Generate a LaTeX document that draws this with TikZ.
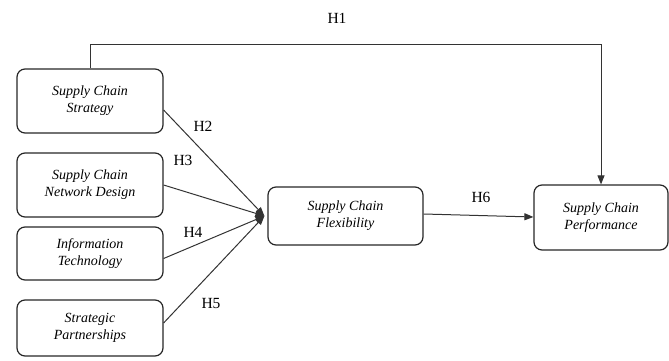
\documentclass[tikz,border=0pt]{standalone}
\usepackage{fontspec}
\setmainfont{Liberation Serif}
\usetikzlibrary{arrows.meta}

\tikzset{
  factor/.style={draw=black!85, line width=1.2pt, rounded corners=8pt, align=center,
    font=\fontsize{14}{17}\selectfont\itshape, inner sep=2pt},
  link/.style={draw=black!80, line width=1pt},
  arr/.style={link, -{Triangle[length=9pt,width=7pt]}},
  hyp/.style={font=\fontsize{15.5}{17}\selectfont}
}

\begin{document}
\begin{tikzpicture}[x=1pt,y=-1pt]
\useasboundingbox (0,0) rectangle (669,361);
% Antecedents
\node[factor, minimum width=146pt, minimum height=64pt] (strat) at (90,101) {Supply Chain\\Strategy};
\node[factor, minimum width=146pt, minimum height=64pt] (netw) at (90,185) {Supply Chain\\Network Design};
\node[factor, minimum width=146pt, minimum height=53pt] (infotech) at (90,253.5) {Information\\Technology};
\node[factor, minimum width=146pt, minimum height=56pt] (partner) at (90,328) {Strategic\\Partnerships};
% Flexibility and Performance
\node[factor, minimum width=155pt, minimum height=58pt] (flex) at (345.5,216) {Supply Chain\\Flexibility};
\node[factor, minimum width=134pt, minimum height=65pt] (perf) at (601,217.5) {Supply Chain\\Performance};
% H2 - H5 converging lines
\draw[arr] ([yshift=-9pt]strat.east) -- ([xshift=-3pt]flex.west);
\draw[arr] (netw.east) -- ([xshift=-3pt]flex.west);
\draw[arr] ([yshift=-5pt]infotech.east) -- ([xshift=-3pt]flex.west);
\draw[arr] ([yshift=5pt]partner.east) -- ([xshift=-3pt]flex.west);
\node[hyp] (h2) at (203,126) {H2};
\node[hyp] (h3) at (183,160) {H3};
\node[hyp] (h4) at (193,232) {H4};
\node[hyp] (h5) at (211,303) {H5};
% H6
\draw[arr] ([yshift=2pt]flex.east) -- ([yshift=0.5pt]perf.west);
\node[hyp] (h6) at (481,197) {H6};
% H1
\coordinate (topleft) at (90,45);
\draw[arr] (strat.north) -- (topleft) -| (perf.north);
\node[hyp] (h1) at (337,18) {H1};
\end{tikzpicture}
\end{document}
